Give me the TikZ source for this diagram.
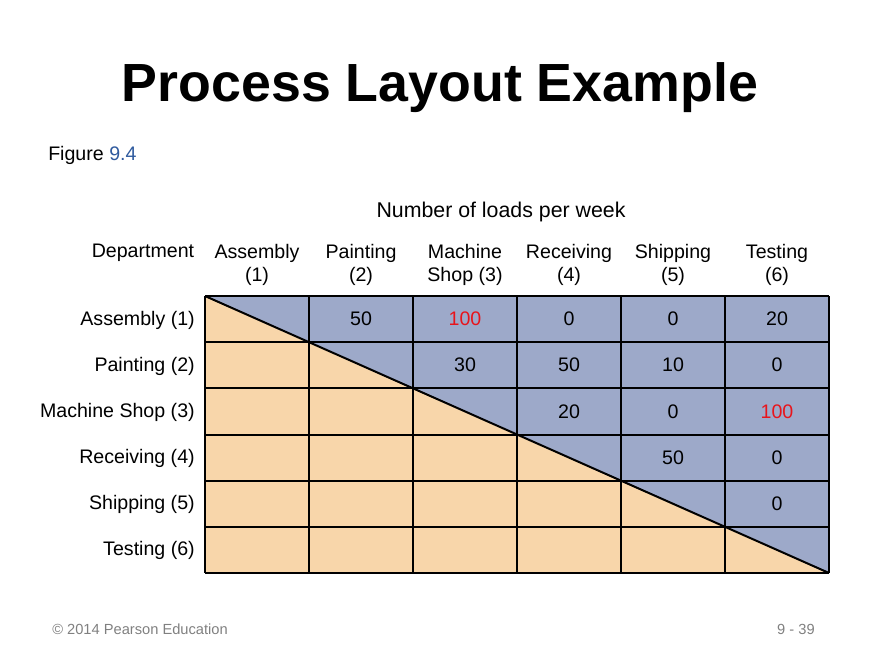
\documentclass[tikz,border=0pt]{standalone}
\usepackage{fontspec}
\setmainfont{Liberation Sans}
\definecolor{upperblue}{HTML}{9DA9C9}
\definecolor{lowertan}{HTML}{F8D6AA}
\definecolor{figblue}{HTML}{2F5A9E}
\definecolor{hot}{HTML}{E8141B}
\tikzset{
  lbl/.style={font=\fontsize{14.7}{17.5}\selectfont, inner sep=0pt},
  rowlbl/.style={lbl, anchor=east},
  hdr/.style={lbl, align=center, anchor=north},
  foot/.style={font=\fontsize{11}{13}\selectfont, text=gray, inner sep=0pt}
}
\begin{document}
\begin{tikzpicture}[x=0.75pt,y=-0.75pt]
  \useasboundingbox (0,0) rectangle (880,660);
  \node[font=\bfseries\fontsize{40.3}{46}\selectfont, inner sep=0pt] (title) at (440,88) {Process Layout Example};
  \node[lbl, anchor=west] (fig) at (48,155) {Figure \textcolor{figblue}{9.4}};
  \node[lbl, font=\fontsize{16}{19}\selectfont] (loads) at (501,212) {Number of loads per week};
  % triangles
  \fill[upperblue] (205,296) -- (829,296) -- (829,573) -- cycle;
  \fill[lowertan] (205,296) -- (205,573) -- (829,573) -- cycle;
  % grid
  \foreach \i in {0,...,6}
    \draw[line width=1.5pt] (205+104*\i,296) -- (205+104*\i,573);
  \foreach \j in {0,...,6}
    \draw[line width=1.5pt] (205,296+46.17*\j) -- (829,296+46.17*\j);
  \draw[line width=1.5pt] (205,296) -- (829,573);
  % headers
  \node[lbl] (dept) at (143,253) {Department};
  \foreach \c/\t in {0/{Assembly\\(1)}, 1/{Painting\\(2)}, 2/{Machine\\Shop (3)},
                     3/{Receiving\\(4)}, 4/{Shipping\\(5)}, 5/{Testing\\(6)}}
    \node[hdr] (col\c) at (257+104*\c,244) {\t};
  \foreach \r/\t in {0/Assembly (1), 1/Painting (2), 2/Machine Shop (3),
                     3/Receiving (4), 4/Shipping (5), 5/Testing (6)}
    \node[rowlbl] (row\r) at (195,320+46.17*\r) {\t};
  % loads
  \foreach \r/\c/\v in {0/1/50, 0/2/\textcolor{hot}{100}, 0/3/0, 0/4/0, 0/5/20,
                        1/2/30, 1/3/50, 1/4/10, 1/5/0,
                        2/3/20, 2/4/0, 2/5/\textcolor{hot}{100},
                        3/4/50, 3/5/0,
                        4/5/0}
    \node[lbl] (v\r\c) at (257+104*\c,319+46.17*\r) {\v};
  \node[foot, anchor=west] (copy) at (52,629) {© 2014 Pearson Education};
  \node[foot, anchor=east] (page) at (815,629) {9 - 39};
\end{tikzpicture}
\end{document}
